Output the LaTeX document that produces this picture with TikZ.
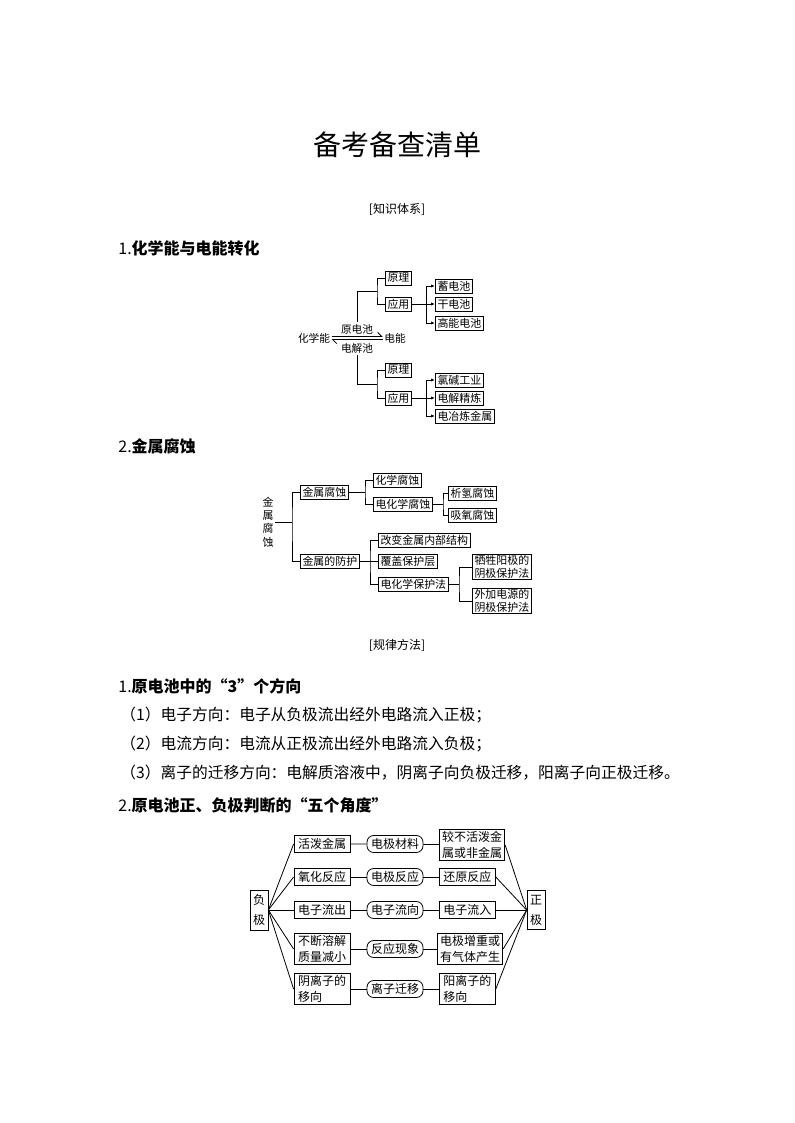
\documentclass[tikz,border=0pt]{standalone}
\usepackage{fontspec}
\setmainfont{Noto Sans CJK SC}
\usetikzlibrary{arrows.meta}

\begin{document}
\begin{tikzpicture}[x=0.75pt, y=-0.75pt, line width=0.6pt,
    txt/.style={inner sep=0pt, font=\fontsize{12}{14}\selectfont},
    head/.style={txt, anchor=west},
    para/.style={head, font=\fontsize{11.8}{14}\selectfont},
    lbl/.style={inner sep=1pt, font=\fontsize{8}{10}\selectfont},
    boxA/.style={draw, anchor=west, font=\fontsize{8.2}{10}\selectfont, inner xsep=1.6pt, inner ysep=0.8pt, minimum height=10.5pt},
    boxB/.style={boxA, align=center},
    sideBox/.style={draw, align=center, font=\fontsize{9}{15}\selectfont, inner xsep=2.2pt, minimum height=27pt},
    rowBox/.style={draw, align=center, font=\fontsize{9}{12.5}\selectfont, minimum width=42pt, minimum height=12.75pt, inner xsep=2pt, inner ysep=1pt},
    midBox/.style={rowBox, rounded corners=5pt},
    tipStyle/.style={-{Latex[length=3pt,width=2.4pt]}}
]
\useasboundingbox (0,0) rectangle (794,1123);

% titles
\node[txt, font=\fontsize{21}{21}\selectfont] (title) at (397,145) {备考备查清单};
\node[txt, font=\fontsize{9}{9}\selectfont] (zstx) at (397,209) {[知识体系]};
\node[head] (h1) at (118,248) {1.\textbf{化学能与电能转化}};

% chemical energy <-> electrical energy
\node[lbl] (hxn) at (314,338) {化学能};
\node[lbl] (dn) at (395,338) {电能};
\node[lbl] (yd) at (357,329) {原电池};
\node[lbl] (dj) at (357,348) {电解池};
\draw[-{Straight Barb[left,length=3pt]}] ([yshift=1.2pt]hxn.east) -- ([yshift=1.2pt]dn.west);
\draw[-{Straight Barb[left,length=3pt]}] ([yshift=-1.2pt]dn.west) -- ([yshift=-1.2pt]hxn.east);

\node[boxA] (yl1) at (385,278) {原理};
\node[boxA] (yy1) at (385,304) {应用};
\node[boxA] (xdc) at (435,286) {蓄电池};
\node[boxA] (gdc) at (435,304) {干电池};
\node[boxA] (gndc) at (435,323) {高能电池};
\coordinate (j1) at (377,291);
\coordinate (k1) at (426,304);
\draw (yd.north) |- (j1);
\draw (yl1.west) -| (j1) |- (yy1.west);
\draw (yy1.east) -- (k1);
\draw[tipStyle] (k1) |- (xdc.west);
\draw[tipStyle] (k1) -- (gdc.west);
\draw[tipStyle] (k1) |- (gndc.west);

\node[boxA] (yl2) at (385,370) {原理};
\node[boxA] (yy2) at (385,398) {应用};
\node[boxA] (ljgy) at (435,380) {氯碱工业};
\node[boxA] (djjl) at (435,398) {电解精炼};
\node[boxA] (dyl) at (435,416) {电冶炼金属};
\coordinate (j2) at (377,384);
\coordinate (k2) at (426,398);
\draw (dj.south) |- (j2);
\draw (yl2.west) -| (j2) |- (yy2.west);
\draw (yy2.east) -- (k2);
\draw[tipStyle] (k2) |- (ljgy.west);
\draw[tipStyle] (k2) -- (djjl.west);
\draw[tipStyle] (k2) |- (dyl.west);

% metal corrosion
\node[head] (h2) at (118,446) {2.\textbf{金属腐蚀}};
\node[lbl, align=center, font=\fontsize{8.2}{10}\selectfont] (jsv) at (268,522) {金\\属\\腐\\蚀};
\node[boxA] (jsfs) at (300,492) {金属腐蚀};
\node[boxA] (jsfh) at (300,561) {金属的防护};
\node[boxA] (hxfs) at (373,480) {化学腐蚀};
\node[boxA] (dhfs) at (373,504) {电化学腐蚀};
\node[boxA] (xqfs) at (448,493) {析氢腐蚀};
\node[boxA] (xyfs) at (448,515) {吸氧腐蚀};
\node[boxA] (gbjg) at (378,540) {改变金属内部结构};
\node[boxA] (fgbh) at (378,561) {覆盖保护层};
\node[boxA] (dhbh) at (378,584) {电化学保护法};
\node[boxB] (xsyj) at (472,567) {牺牲阳极的\\阴极保护法};
\node[boxB] (wjdy) at (472,601) {外加电源的\\阴极保护法};
\coordinate (j3) at (292,522);
\coordinate (j4) at (365,492);
\coordinate (j5) at (443,504);
\coordinate (j6) at (370,561);
\coordinate (j7) at (459,584);
\draw (jsv.east) -- (j3);
\draw (jsfs.west) -| (j3) |- (jsfh.west);
\draw (jsfs.east) -- (j4);
\draw (hxfs.west) -| (j4) |- (dhfs.west);
\draw (dhfs.east) -- (j5);
\draw (xqfs.west) -| (j5) |- (xyfs.west);
\draw (jsfh.east) -- (fgbh.west);
\draw (gbjg.west) -| (j6) |- (dhbh.west);
\draw (dhbh.east) -- (j7);
\draw (xsyj.west) -| (j7) |- (wjdy.west);

% rules and methods
\node[txt, font=\fontsize{9}{9}\selectfont] (glff) at (397,645) {[规律方法]};
\node[head] (h3) at (118,686) {1.\textbf{原电池中的“3”个方向}};
\node[para] (p1) at (120,715) {（1）电子方向：电子从负极流出经外电路流入正极；};
\node[para] (p2) at (120,744) {（2）电流方向：电流从正极流出经外电路流入负极；};
\node[para] (p3) at (120,773) {（3）离子的迁移方向：电解质溶液中，阴离子向负极迁移，阳离子向正极迁移。};
\node[head] (h4) at (118,805) {2.\textbf{原电池正、负极判断的“五个角度”}};

% five angles
\node[sideBox] (fj) at (259,910) {负\\极};
\node[sideBox] (zj) at (536,910) {正\\极};

\node[rowBox] (l1) at (322,844) {活泼金属};
\node[midBox] (m1) at (395,844) {电极材料};
\node[rowBox, anchor=west] (r1) at (439,845) {较不活泼金\\属或非金属};
\node[rowBox] (l2) at (322,877) {氧化反应};
\node[midBox] (m2) at (395,877) {电极反应};
\node[rowBox, anchor=west] (r2) at (439,877) {还原反应};
\node[rowBox] (l3) at (322,910) {电子流出};
\node[midBox] (m3) at (395,910) {电子流向};
\node[rowBox, anchor=west] (r3) at (439,910) {电子流入};
\node[rowBox] (l4) at (322,949) {不断溶解\\质量减小};
\node[midBox] (m4) at (395,949) {反应现象};
\node[rowBox, anchor=west] (r4) at (437,949) {电极增重或\\有气体产生};
\node[rowBox, align=left] (l5) at (322,989) {阴离子的\\移向};
\node[midBox] (m5) at (395,989) {离子迁移};
\node[rowBox, anchor=west, align=left] (r5) at (439,989) {阳离子的\\移向};

\foreach \i in {1,...,5} {
    \draw (fj.east) -- (l\i.west);
    \draw (l\i) -- (m\i) -- (r\i);
    \draw (zj.west) -- (r\i.east);
}
\end{tikzpicture}
\end{document}
